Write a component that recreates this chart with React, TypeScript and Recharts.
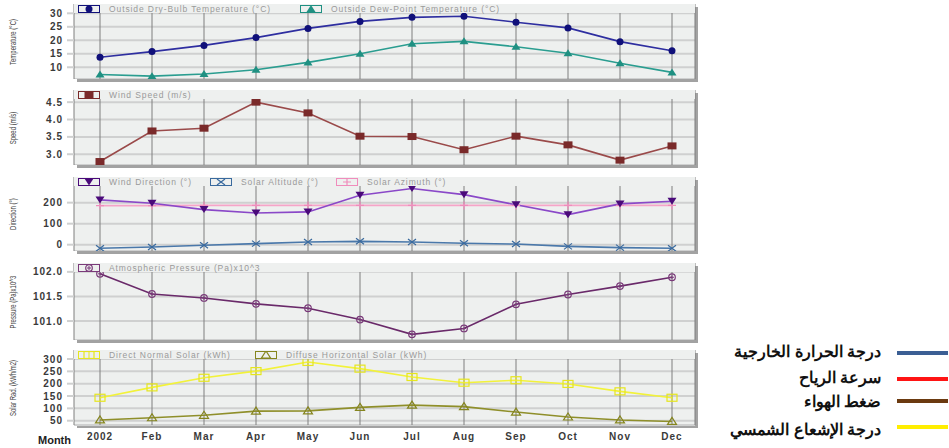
import { LineChart, Line, XAxis, YAxis, CartesianGrid } from 'recharts'

const months = ['2002', 'Feb', 'Mar', 'Apr', 'May', 'Jun', 'Jul', 'Aug', 'Sep', 'Oct', 'Nov', 'Dec']

const dryBulb = [13.7, 15.8, 18.1, 21.0, 24.4, 27.0, 28.5, 28.9, 26.7, 24.6, 19.5, 16.1]
const dewPoint = [7.3, 6.7, 7.5, 9.1, 11.8, 15.0, 18.7, 19.6, 17.6, 15.2, 11.5, 8.1]
const windSpeed = [2.79, 3.67, 3.75, 4.5, 4.19, 3.52, 3.51, 3.13, 3.52, 3.27, 2.83, 3.24]
const windDirection = [213, 197, 167, 151, 156, 235, 267, 238, 190, 143, 194, 207]
const solarAltitude = [-17, -11, -3, 5, 13, 16, 13, 7, 3, -8, -14, -17]
const solarAzimuth = [186, 186, 187, 187, 187, 187, 187, 187, 187, 187, 187, 187]
const pressure = [101.96, 101.55, 101.47, 101.35, 101.26, 101.03, 100.73, 100.85, 101.34, 101.54, 101.71, 101.89]
const directNormal = [143, 185, 224, 251, 288, 261, 227, 204, 214, 199, 169, 143]
const diffuseHorizontal = [53, 62, 72, 89, 90, 104, 113, 107, 85, 65, 53, 47]

const tempTicks = [10, 15, 20, 25, 30]
const speedTicks = [3.0, 3.5, 4.0, 4.5]
const dirTicks = [0, 100, 200]
const pressTicks = [101.0, 101.5, 102.0]
const solarTicks = [50, 100, 150, 200, 250, 300]

const arabicLegend = [
  { label: 'درجة الحرارة الخارجية', color: '#3b5f94' },
  { label: 'سرعة الرياح', color: '#ff1414' },
  { label: 'ضغط الهواء', color: '#6b3a10' },
  { label: 'درجة الإشعاع الشمسي', color: '#ffee00' },
]

const PLOT_BG = '#eef0ef'
const FONT = 'Arial, "Liberation Sans", sans-serif'

const tempData = months.map((m, i) => ({ month: m, dryBulb: dryBulb[i], dewPoint: dewPoint[i] }))
const speedData = months.map((m, i) => ({ month: m, windSpeed: windSpeed[i] }))
const dirData = months.map((m, i) => ({
  month: m, windDirection: windDirection[i], solarAltitude: solarAltitude[i], solarAzimuth: solarAzimuth[i],
}))
const pressData = months.map((m, i) => ({ month: m, pressure: pressure[i] }))
const solarData = months.map((m, i) => ({ month: m, directNormal: directNormal[i], diffuseHorizontal: diffuseHorizontal[i] }))

type Shape = 'circle' | 'triangle' | 'square' | 'invTriangle' | 'x' | 'plus' | 'ocircle' | 'osquare' | 'otriangle'

function Marker({ shape, color, cx, cy }: { shape: Shape, color: string, cx: number, cy: number }) {
    switch (shape) {
        case 'circle':
            return <circle cx={cx} cy={cy} r={3.5} fill={color} />
        case 'triangle':
            return <path d={`M${cx},${cy - 4}L${cx + 4.5},${cy + 3}L${cx - 4.5},${cy + 3}Z`} fill={color} />
        case 'square':
            return <rect x={cx - 4.5} y={cy - 3.5} width={9} height={7} fill={color} />
        case 'invTriangle':
            return <path d={`M${cx - 4.5},${cy - 3.5}L${cx + 4.5},${cy - 3.5}L${cx},${cy + 3.5}Z`} fill={color} />
        case 'x':
            return <path d={`M${cx - 4},${cy - 3}L${cx + 4},${cy + 3}M${cx - 4},${cy + 3}L${cx + 4},${cy - 3}`} stroke={color} strokeWidth={1.2} fill="none" />
        case 'plus':
            return <path d={`M${cx - 4},${cy}L${cx + 4},${cy}M${cx},${cy - 4}L${cx},${cy + 4}`} stroke={color} strokeWidth={1.2} fill="none" />
        case 'ocircle':
            return (
                <g>
                    <circle cx={cx} cy={cy} r={3.3} fill="none" stroke={color} strokeWidth={1.2} />
                    <path d={`M${cx - 2},${cy}L${cx + 2},${cy}M${cx},${cy - 2}L${cx},${cy + 2}`} stroke={color} strokeWidth={1} />
                </g>
            )
        case 'osquare':
            return (
                <g>
                    <rect x={cx - 5} y={cy - 3.5} width={10} height={7} fill="none" stroke={color} strokeWidth={1.2} />
                    <path d={`M${cx},${cy - 3.5}L${cx},${cy + 3.5}`} stroke={color} strokeWidth={1} />
                </g>
            )
        case 'otriangle':
            return <path d={`M${cx},${cy - 4}L${cx + 4.5},${cy + 3}L${cx - 4.5},${cy + 3}Z`} fill="none" stroke={color} strokeWidth={1.2} />
    }
    return null
}

type Series = { key: string, name: string, line: string, marker: string, shape: Shape, lx: number, width?: number }

function Panel({ top, plotH, data, series, domain, ticks, fmt, title, showX }: {
    top: number, plotH: number, data: any[], series: Series[], domain: [number, number], ticks: number[],
    fmt?: (v: number) => string, title: string, showX?: boolean
}) {
    const h = plotH + (showX ? 22 : 0)
    return (
        <div style={{ position: 'absolute', left: 0, top, width: 700, height: h }}>
            <div style={{ position: 'absolute', left: 74, top: 0, width: 621, height: plotH, background: PLOT_BG, boxShadow: '3px 3px 0 #a2a2a2' }} />
            <div style={{ position: 'absolute', left: 0, top: 0 }}>
                <LineChart width={700} height={h} data={data} margin={{ top: 0, right: 5, left: 0, bottom: 0 }}>
                    <CartesianGrid vertical={false} stroke="#cfd0d0" strokeWidth={2} />
                    <CartesianGrid horizontal={false} stroke="#7e7e7e" />
                    <XAxis
                        dataKey="month"
                        hide={!showX}
                        height={22}
                        interval={0}
                        padding={{ left: 26, right: 23 }}
                        axisLine={false}
                        tickLine={false}
                        tickMargin={2}
                        tick={{ fill: '#3a3a3a', fontSize: 10, fontWeight: 'bold', fontFamily: FONT, letterSpacing: 1 }}
                    />
                    <YAxis
                        width={74}
                        type="number"
                        domain={domain}
                        ticks={ticks}
                        allowDataOverflow
                        interval={0}
                        axisLine={false}
                        tickSize={7}
                        tickLine={{ stroke: '#cfd0d0', strokeWidth: 2 }}
                        tickMargin={4}
                        tickFormatter={fmt}
                        tick={{ fill: '#3a3a3a', fontSize: 10, fontWeight: 'bold', fontFamily: FONT, letterSpacing: 1 }}
                    />
                    {series.map(s => (
                        <Line
                            key={s.key}
                            dataKey={s.key}
                            type="linear"
                            stroke={s.line}
                            strokeWidth={s.width ?? 1.6}
                            isAnimationActive={false}
                            activeDot={false}
                            dot={(p: any) => <Marker key={`${s.key}-${p.index}`} shape={s.shape} color={s.marker} cx={p.cx} cy={p.cy} />}
                        />
                    ))}
                </LineChart>
            </div>
            {/* legend strip inside the plot */}
            <div style={{ position: 'absolute', left: 74, top: 0, width: 621, height: 9, background: PLOT_BG }}>
                {series.map(s => (
                    <div key={s.key} style={{ position: 'absolute', left: s.lx, top: 1, height: 8, display: 'flex', alignItems: 'center', whiteSpace: 'nowrap' }}>
                        <svg width={22} height={8} style={{ display: 'block' }}>
                            <rect x={0.5} y={0.5} width={21} height={7} fill="none" stroke={s.marker} strokeWidth={1} />
                            <Marker shape={s.shape} color={s.marker} cx={11} cy={4} />
                        </svg>
                        <span style={{ marginLeft: 9, fontFamily: FONT, fontSize: 8.5, letterSpacing: 0.9, color: '#9a9a9a', lineHeight: '8px' }}>{s.name}</span>
                    </div>
                ))}
            </div>
            <div style={{
                position: 'absolute', left: 13, top: plotH / 2, whiteSpace: 'nowrap', fontFamily: FONT, fontSize: 6, color: '#444',
                transform: 'translate(-50%, -50%) rotate(-90deg) scaleY(1.4)',
            }}>{title}</div>
        </div>
    )
}

export default function App() {
    return (
        <div style={{ position: 'absolute', left: 0, top: 0, width: 949, height: 448, background: '#fff', overflow: 'hidden' }}>
            <Panel
                top={4} plotH={75} data={tempData} domain={[5.65, 33.45]} ticks={tempTicks} title="Temperature (°C)"
                series={[
                    { key: 'dryBulb', name: 'Outside Dry-Bulb Temperature (°C)', line: '#2e2ea0', marker: '#10107a', shape: 'circle', lx: 4 },
                    { key: 'dewPoint', name: 'Outside Dew-Point Temperature (°C)', line: '#2a9d90', marker: '#1f9082', shape: 'triangle', lx: 226 },
                ]}
            />
            <Panel
                top={90} plotH={75} data={speedData} domain={[2.69, 4.85]} ticks={speedTicks} fmt={v => v.toFixed(1)} title="Speed (m/s)"
                series={[
                    { key: 'windSpeed', name: 'Wind Speed (m/s)', line: '#9a4a4a', marker: '#7a2a2a', shape: 'square', lx: 4 },
                ]}
            />
            <Panel
                top={177} plotH={74} data={dirData} domain={[-30, 322]} ticks={dirTicks} title="Direction (°)"
                series={[
                    { key: 'solarAzimuth', name: 'Solar Azimuth (°)', line: '#f6a4c8', marker: '#f08cbc', shape: 'plus', lx: 262, width: 1.6 },
                    { key: 'solarAltitude', name: 'Solar Altitude (°)', line: '#4a78aa', marker: '#3a6a9e', shape: 'x', lx: 136 },
                    { key: 'windDirection', name: 'Wind Direction (°)', line: '#8a48c8', marker: '#4a0a7a', shape: 'invTriangle', lx: 4 },
                ]}
            />
            <Panel
                top={263} plotH={77} data={pressData} domain={[100.615, 102.18]} ticks={pressTicks} fmt={v => v.toFixed(1)} title="Pressure (Pa)x10^3"
                series={[
                    { key: 'pressure', name: 'Atmospheric Pressure (Pa)x10^3', line: '#6a2a6a', marker: '#7a3a7a', shape: 'ocircle', lx: 4 },
                ]}
            />
            <Panel
                top={350} plotH={75} data={solarData} domain={[32.6, 336.5]} ticks={solarTicks} title="Solar Rad. (kWh/m2)" showX
                series={[
                    { key: 'directNormal', name: 'Direct Normal Solar (kWh)', line: '#f2f23a', marker: '#e6e61e', shape: 'osquare', lx: 4 },
                    { key: 'diffuseHorizontal', name: 'Diffuse Horizontal Solar (kWh)', line: '#8f8f2a', marker: '#85851e', shape: 'otriangle', lx: 181 },
                ]}
            />
            <div style={{ position: 'absolute', left: 38, top: 434, fontFamily: FONT, fontSize: 11, fontWeight: 'bold', color: '#222' }}>Month</div>

            {/* Arabic legend */}
            {arabicLegend.map((item, i) => {
                const ys = [352, 378, 402, 430]
                const lineYs = [353, 379, 401, 427]
                return (
                    <div key={item.label}>
                        <div style={{
                            position: 'absolute', right: 949 - 881, top: ys[i] - 10, direction: 'rtl', whiteSpace: 'nowrap',
                            fontFamily: FONT, fontSize: 16, fontWeight: 'bold', color: '#111', lineHeight: '20px',
                        }}>{item.label}</div>
                        <div style={{ position: 'absolute', left: 897, top: lineYs[i] - 2, width: 51, height: 4, background: item.color }} />
                    </div>
                )
            })}
        </div>
    )
}
